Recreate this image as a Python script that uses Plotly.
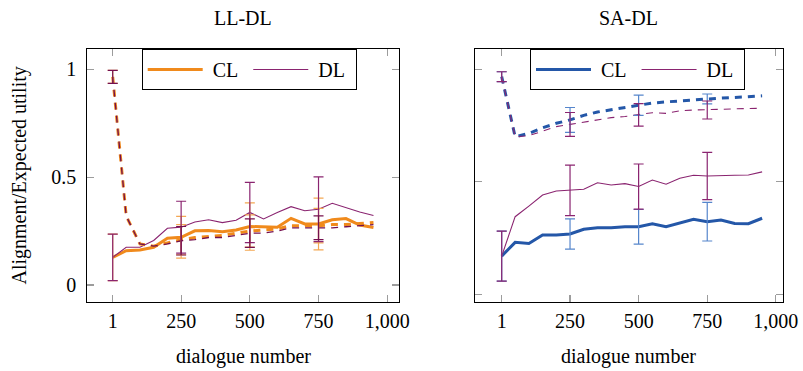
import plotly.graph_objects as go

# ---------------- data ----------------
dialogues = [1, 50, 100, 150, 200, 250, 300, 350, 400, 450, 500,
             550, 600, 650, 700, 750, 800, 850, 900, 950]
err_x = [1, 250, 500, 750]
x_tickvals = [1, 250, 500, 750, 1000]
x_ticktext = ["1", "250", "500", "750", "1,000"]
y_tickvals = [0, 0.5, 1]
y_ticktext = ["0", "0.5", "1"]

# LL-DL panel (solid = alignment, dashed = expected utility)
ll_cl_solid = [0.128, 0.159, 0.162, 0.175, 0.217, 0.221, 0.251, 0.252, 0.247, 0.255,
               0.271, 0.268, 0.268, 0.309, 0.283, 0.283, 0.302, 0.308, 0.278, 0.266]
ll_dl_solid = [0.128, 0.175, 0.175, 0.206, 0.263, 0.268, 0.292, 0.302, 0.289, 0.300,
               0.336, 0.306, 0.336, 0.363, 0.344, 0.351, 0.379, 0.358, 0.338, 0.322]
ll_cl_dashed = [0.965, 0.32, 0.19, 0.18, 0.195, 0.21, 0.22, 0.225, 0.23, 0.24,
                0.25, 0.255, 0.26, 0.275, 0.275, 0.275, 0.28, 0.28, 0.285, 0.29]
ll_dl_dashed = [0.965, 0.32, 0.19, 0.18, 0.19, 0.205, 0.21, 0.22, 0.22, 0.23,
                0.24, 0.24, 0.25, 0.265, 0.265, 0.265, 0.265, 0.27, 0.275, 0.28]
ll_cl_solid_err = [0.108, 0.097, 0.11, 0.12]
ll_dl_solid_err = [0.108, 0.12, 0.14, 0.15]
ll_cl_dashed_err = [0.03, 0.07, 0.075, 0.08]
ll_dl_dashed_err = [0.03, 0.066, 0.066, 0.055]

# SA-DL panel
sa_cl_solid = [0.170, 0.231, 0.226, 0.264, 0.264, 0.268, 0.289, 0.296, 0.296, 0.300,
               0.300, 0.313, 0.300, 0.315, 0.333, 0.323, 0.330, 0.315, 0.314, 0.338]
sa_dl_solid = [0.170, 0.345, 0.392, 0.441, 0.459, 0.462, 0.467, 0.496, 0.486, 0.492,
               0.479, 0.508, 0.489, 0.516, 0.529, 0.526, 0.529, 0.529, 0.530, 0.544]
sa_cl_dashed = [0.967, 0.70, 0.715, 0.74, 0.76, 0.775, 0.795, 0.81, 0.82, 0.83,
                0.84, 0.85, 0.855, 0.86, 0.865, 0.868, 0.872, 0.875, 0.878, 0.882]
sa_dl_dashed = [0.967, 0.70, 0.705, 0.725, 0.745, 0.755, 0.765, 0.775, 0.785, 0.79,
                0.797, 0.807, 0.804, 0.815, 0.819, 0.819, 0.822, 0.824, 0.825, 0.827]
sa_cl_solid_err = [0.111, 0.067, 0.077, 0.086]
sa_dl_solid_err = [0.111, 0.112, 0.10, 0.105]
sa_cl_dashed_err = [0.022, 0.055, 0.045, 0.022]
sa_dl_dashed_err = [0.022, 0.053, 0.05, 0.04]

# ---------------- style ----------------
ORANGE = "#F08A1C"
ORANGE_ERR = "#F4A853"
BLUE = "#2457A8"
BLUE_ERR = "#5686CC"
PURPLE = "#8A2470"
PURPLE_DARK = "#74104F"
FONT = "Liberation Serif"
DASH = "7px,6px"
NB = "\u00a0"

fig = go.Figure()


def at_err(series):
    return [series[dialogues.index(v)] for v in err_x]


def add_line(xa, ya, y, color, width, dash, name, legend, show):
    fig.add_trace(go.Scatter(
        x=dialogues, y=y, mode="lines", name=NB + name + NB,
        line=dict(color=color, width=width, dash=dash),
        xaxis=xa, yaxis=ya, showlegend=show, legend=legend, hoverinfo="skip"))


def add_err(xa, ya, y, err, color):
    fig.add_trace(go.Scatter(
        x=err_x, y=at_err(y), mode="markers",
        marker=dict(size=2, opacity=0),
        error_y=dict(type="data", array=err, visible=True, color=color,
                     thickness=1.2, width=5),
        xaxis=xa, yaxis=ya, showlegend=False, hoverinfo="skip"))


# Left panel
add_line("x", "y", ll_cl_solid, ORANGE, 3, "solid", "CL", "legend", True)
add_line("x", "y", ll_dl_solid, PURPLE, 1.1, "solid", "DL", "legend", True)
add_line("x", "y", ll_cl_dashed, ORANGE, 3, DASH, "CL", "legend", False)
add_line("x", "y", ll_dl_dashed, PURPLE_DARK, 1.3, DASH, "DL", "legend", False)
add_err("x", "y", ll_cl_solid, ll_cl_solid_err, ORANGE_ERR)
add_err("x", "y", ll_cl_dashed, ll_cl_dashed_err, ORANGE_ERR)
add_err("x", "y", ll_dl_solid, ll_dl_solid_err, PURPLE)
add_err("x", "y", ll_dl_dashed, ll_dl_dashed_err, PURPLE_DARK)

# Right panel
add_line("x2", "y2", sa_cl_solid, BLUE, 3, "solid", "CL", "legend2", True)
add_line("x2", "y2", sa_dl_solid, PURPLE, 1.1, "solid", "DL", "legend2", True)
add_line("x2", "y2", sa_cl_dashed, BLUE, 3, DASH, "CL", "legend2", False)
add_line("x2", "y2", sa_dl_dashed, PURPLE, 1.1, DASH, "DL", "legend2", False)
add_err("x2", "y2", sa_cl_solid, sa_cl_solid_err, BLUE_ERR)
add_err("x2", "y2", sa_cl_dashed, sa_cl_dashed_err, BLUE_ERR)
add_err("x2", "y2", sa_dl_solid, sa_dl_solid_err, PURPLE)
add_err("x2", "y2", sa_dl_dashed, sa_dl_dashed_err, PURPLE)

W, H = 803, 371
ydom = [1 - 302 / H, 1 - 49 / H]

axis_common = dict(showgrid=False, zeroline=False, showline=True, linecolor="black",
                   linewidth=1, mirror="allticks", ticks="inside", ticklen=7,
                   tickwidth=1.2, tickcolor="#9c9c9c", automargin=False,
                   tickfont=dict(family=FONT, size=20, color="black"))

legend_common = dict(y=ydom[1], xanchor="left", yanchor="top",
                     orientation="h", bgcolor="white", bordercolor="black",
                     borderwidth=1, itemwidth=55,
                     font=dict(family=FONT, size=20, color="black"))

fig.update_layout(
    width=W, height=H,
    margin=dict(l=0, r=0, t=0, b=0, autoexpand=False),
    paper_bgcolor="white", plot_bgcolor="white",
    font=dict(family=FONT, size=20, color="black"),
    xaxis=dict(domain=[87.3 / W, 399.3 / W], range=[-91.5, 1044],
               tickvals=x_tickvals, ticktext=x_ticktext, anchor="y",
               ticklabelstandoff=1, **axis_common),
    yaxis=dict(domain=ydom, range=[-0.079, 1.094], tickvals=y_tickvals,
               ticktext=y_ticktext, anchor="x", ticklabelstandoff=6,
               **axis_common),
    xaxis2=dict(domain=[474.7 / W, 782.7 / W], range=[-97.4, 1025],
                tickvals=x_tickvals, ticktext=x_ticktext, anchor="y2",
                ticklabelstandoff=1, **axis_common),
    yaxis2=dict(domain=ydom, range=[-0.034, 1.090], tickvals=y_tickvals,
                showticklabels=False, anchor="x2", **axis_common),
    legend=dict(x=141.7 / W, **legend_common),
    legend2=dict(x=530 / W, **legend_common),
    annotations=[
        dict(text="LL-DL", x=243.3 / W, y=1 - 18 / H, xref="paper", yref="paper",
             xanchor="center", yanchor="middle", showarrow=False,
             font=dict(family=FONT, size=20)),
        dict(text="SA-DL", x=628.7 / W, y=1 - 18 / H, xref="paper", yref="paper",
             xanchor="center", yanchor="middle", showarrow=False,
             font=dict(family=FONT, size=20)),
        dict(text="dialogue number", x=243.3 / W, y=1 - 356 / H, xref="paper",
             yref="paper", xanchor="center", yanchor="middle", showarrow=False,
             font=dict(family=FONT, size=20)),
        dict(text="dialogue number", x=628.7 / W, y=1 - 356 / H, xref="paper",
             yref="paper", xanchor="center", yanchor="middle", showarrow=False,
             font=dict(family=FONT, size=20)),
        dict(text="Alignment/Expected utility", x=19 / W, y=(ydom[0] + ydom[1]) / 2,
             xref="paper", yref="paper", xanchor="center", yanchor="middle",
             textangle=-90, showarrow=False, font=dict(family=FONT, size=20)),
    ],
)

fig.write_html("out.html",
               config={"displayModeBar": False, "staticPlot": True},
               post_script="document.body.style.margin='0';"
                           "document.body.style.padding='0';")
